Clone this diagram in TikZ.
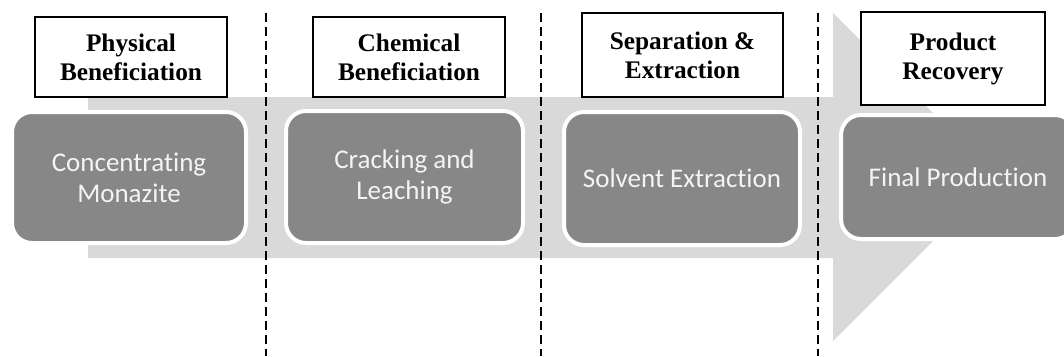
\documentclass[tikz,border=0pt]{standalone}
\usepackage{fontspec}
\setmainfont{Liberation Serif}
\newfontfamily\boxfont[Ligatures=NoCommon]{Carlito}
\definecolor{arrowgrey}{HTML}{D9D9D9}
\definecolor{boxgrey}{HTML}{878787}
\definecolor{boxtext}{HTML}{F4F4F4}
\tikzset{
  headbox/.style={draw=black, line width=1.1pt, fill=white, align=center, inner sep=0pt,
    font=\fontsize{25.3}{29}\selectfont\bfseries},
  stagebox/.style={draw=white, line width=4pt, fill=boxgrey, rounded corners=20pt, align=center,
    inner sep=0pt, text=boxtext, font=\boxfont\fontsize{27}{31}\selectfont},
  divider/.style={draw=black, line width=1.8pt, dash pattern=on 9pt off 5pt},
  bigarrow/.style={fill=arrowgrey, draw=none}
}
\begin{document}
\begin{tikzpicture}[x=1pt,y=-1pt]
\useasboundingbox (0,0) rectangle (1064,356);
\clip (0,0) rectangle (1064,356);
\fill[white] (0,0) rectangle (1064,356);
% big arrow
\path[bigarrow] (88,97) -- (833,97) -- (833,13) -- (997,177) -- (833,341) -- (833,258) -- (88,258) -- cycle;
% stage boxes
\node[stagebox, minimum width=234pt, minimum height=131pt] (g1) at (129,177.5) {Concentrating\\Monazite};
\node[stagebox, minimum width=237pt, minimum height=132pt] (g2) at (404.5,177) {Cracking and\\Leaching};
\node[stagebox, minimum width=236pt, minimum height=133pt] (g3) at (682,178.5) {Solvent Extraction};
\node[stagebox, minimum width=234pt, minimum height=124pt] (g4) at (958,177) {Final Production};
% header boxes
\node[headbox, minimum width=192pt, minimum height=80pt] (h1) at (131,57) {Physical\\Beneficiation};
\node[headbox, minimum width=192pt, minimum height=80pt] (h2) at (409,57) {Chemical\\Beneficiation};
\node[headbox, minimum width=201pt, minimum height=84pt] (h3) at (682.5,55) {Separation \&\\Extraction};
\node[headbox, minimum width=184pt, minimum height=93pt] (h4) at (953,58.5) {Product\\Recovery};
% dividers
\coordinate (d1t) at (266,13); \coordinate (d1b) at (266,356);
\coordinate (d2t) at (541,13); \coordinate (d2b) at (541,356);
\coordinate (d3t) at (818,13); \coordinate (d3b) at (818,356);
\draw[divider] (d1t) -- (d1b);
\draw[divider] (d2t) -- (d2b);
\draw[divider] (d3t) -- (d3b);
\end{tikzpicture}
\end{document}
